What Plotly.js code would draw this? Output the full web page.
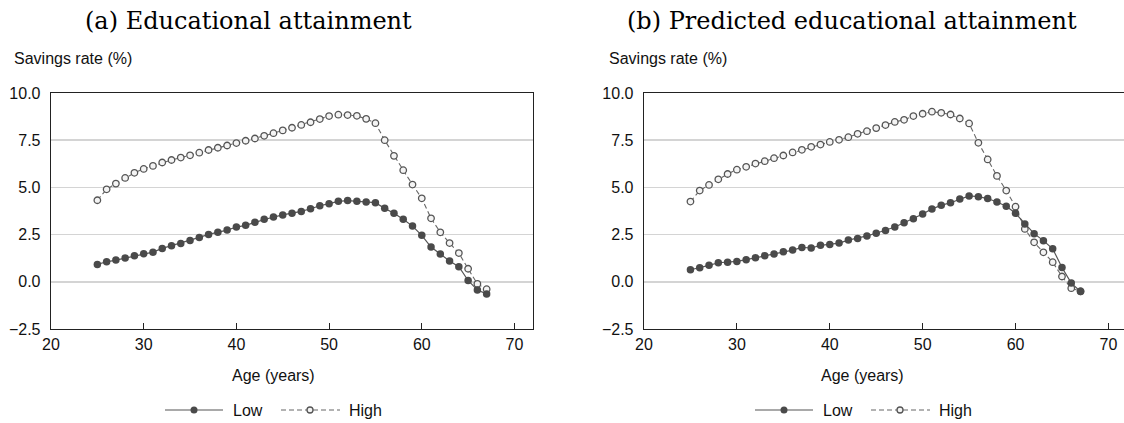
<!DOCTYPE html>
<html>
<head>
<meta charset="utf-8">
<script src="https://cdn.plot.ly/plotly-3.0.1.min.js"></script>
<style>
html,body{margin:0;padding:0;overflow:hidden;background:#fff;}
#chart{width:1130px;height:423px;}
</style>
</head>
<body>
<div id="chart"></div>
<script>
// ---- data ----
const ages = [25,26,27,28,29,30,31,32,33,34,35,36,37,38,39,40,41,42,43,44,45,46,
              47,48,49,50,51,52,53,54,55,56,57,58,59,60,61,62,63,64,65,66,67];

const lowA  = [0.92,1.06,1.15,1.26,1.38,1.49,1.57,1.77,1.91,2.03,2.19,2.35,2.51,2.62,2.74,2.90,2.99,3.15,3.31,3.43,3.54,3.63,3.73,3.87,
               4.03,4.14,4.26,4.30,4.26,4.23,4.19,3.89,3.63,3.31,2.95,2.46,1.84,1.47,1.10,0.80,0.07,-0.44,-0.64];
const highA = [4.32,4.90,5.20,5.50,5.77,5.98,6.14,6.32,6.45,6.58,6.70,6.84,6.98,7.10,7.22,7.35,7.47,7.59,7.73,7.87,8.02,8.16,8.31,8.45,
               8.62,8.78,8.85,8.83,8.79,8.63,8.40,7.50,6.67,5.91,5.15,4.42,3.36,2.62,2.05,1.52,0.69,-0.11,-0.39];

const lowB  = [0.64,0.74,0.87,1.01,1.03,1.08,1.17,1.27,1.38,1.47,1.59,1.68,1.82,1.79,1.93,1.98,2.05,2.21,2.30,2.43,
               2.57,2.72,2.90,3.13,3.34,3.59,3.86,4.05,4.19,4.39,4.55,4.51,4.41,4.23,4.00,3.63,3.06,2.55,2.18,1.75,0.76,-0.07,-0.51];
const highB = [4.25,4.83,5.13,5.43,5.71,5.94,6.09,6.26,6.39,6.55,6.69,6.85,6.99,7.15,7.27,7.41,7.52,7.66,7.84,7.98,
               8.14,8.30,8.47,8.58,8.78,8.90,9.01,8.95,8.86,8.65,8.39,7.36,6.48,5.61,4.83,3.98,2.80,2.09,1.56,1.04,0.28,-0.34,-0.50];

const panelTitles = ["(a) Educational attainment", "(b) Predicted educational attainment"];
const seriesNames = ["Low", "High"];
const yTitle = "Savings rate (%)";
const xTitle = "Age (years)";
const yTicks = [-2.5, 0, 2.5, 5, 7.5, 10];
const xTicks = [20, 30, 40, 50, 60, 70];

// ---- geometry (pixels) ----
const W = 1130, H = 423;
const ML = 51, MR = 3, MT = 93, MB = 94;
const PW = W - ML - MR, PH = H - MT - MB;
const px = x => (x - ML) / PW;
const py = y => (H - MB - y) / PH;

const panelLeft = [51, 644];
const panelRight = [533, 1127];

const sans = "Liberation Sans, Arial, sans-serif";
const FS = 16;
const lowStyle = {line: {color: '#555555', width: 1.2}, marker: {color: '#4a4a4a', size: 7.5, line: {width: 0}}};
const highStyle = {line: {color: '#666666', width: 1.1, dash: '5px,3px'},
                   marker: {color: '#f4f4f4', size: 6.5, line: {color: '#555555', width: 1.3}}};

function mk(y, name, style, xa, ya) {
  return {x: ages, y: y, name: name, type: 'scatter', mode: 'lines+markers',
          line: style.line, marker: style.marker, xaxis: xa, yaxis: ya,
          showlegend: false, hoverinfo: 'x+y'};
}

const traces = [
  mk(highA, seriesNames[1], highStyle, 'x', 'y'),
  mk(lowA, seriesNames[0], lowStyle, 'x', 'y'),
  mk(highB, seriesNames[1], highStyle, 'x2', 'y2'),
  mk(lowB, seriesNames[0], lowStyle, 'x2', 'y2')
];

function xax(dom, anchor) {
  return {domain: dom, anchor: anchor, range: [20, 72], tickvals: xTicks, ticktext: xTicks.map(String),
          ticks: 'inside', ticklen: 6, tickwidth: 1, tickcolor: '#222',
          showline: true, mirror: true, linecolor: '#222', linewidth: 1.3,
          showgrid: false, zeroline: false, fixedrange: true,
          tickfont: {family: sans, size: FS, color: '#111'}};
}
function yax(anchor) {
  return {domain: [0, 1], anchor: anchor, range: [-2.5, 10], tickvals: yTicks,
          ticktext: yTicks.map(v => (v < 0 ? '\u2212' : '') + Math.abs(v).toFixed(1)),
          ticks: '', showline: true, mirror: true, linecolor: '#222', linewidth: 1.3,
          showgrid: true, gridcolor: '#d4d4d4', gridwidth: 1.5, zeroline: false, fixedrange: true,
          ticklabelstandoff: 6,
          tickfont: {family: sans, size: FS, color: '#111'}};
}

const annotations = [];
const shapes = [];
const titleCenters = [248, 852];
const xTitleCenters = [273, 862];
const yTitleLeft = [12, 607];

for (let p = 0; p < 2; p++) {
  annotations.push({xref: 'paper', yref: 'paper', x: px(titleCenters[p]), y: py(21), xanchor: 'center', yanchor: 'middle',
                    text: panelTitles[p], showarrow: false, font: {family: 'DejaVu Serif, serif', size: 24, color: '#000'}});
  annotations.push({xref: 'paper', yref: 'paper', x: px(yTitleLeft[p]), y: py(59), xanchor: 'left', yanchor: 'middle',
                    text: yTitle, showarrow: false, font: {family: sans, size: FS, color: '#111'}});
  annotations.push({xref: 'paper', yref: 'paper', x: px(xTitleCenters[p]), y: py(375), xanchor: 'center', yanchor: 'middle',
                    text: xTitle, showarrow: false, font: {family: sans, size: FS, color: '#111'}});
  // custom legend
  const o = panelLeft[p] - 51 - (p === 1 ? 3 : 0);
  const ly = 410;
  shapes.push({type: 'line', xref: 'paper', yref: 'paper', x0: px(165 + o), x1: px(223 + o), y0: py(ly), y1: py(ly),
               line: {color: '#555555', width: 1.2}});
  shapes.push({type: 'circle', xref: 'paper', yref: 'paper', x0: px(194 + o - 3.5), x1: px(194 + o + 3.5),
               y0: py(ly + 3.5), y1: py(ly - 3.5), fillcolor: '#4a4a4a', line: {width: 0}});
  annotations.push({xref: 'paper', yref: 'paper', x: px(231 + o), y: py(ly), xanchor: 'left', yanchor: 'middle',
                    text: seriesNames[0], showarrow: false, font: {family: sans, size: FS, color: '#111'}});
  shapes.push({type: 'line', xref: 'paper', yref: 'paper', x0: px(281 + o), x1: px(340 + o), y0: py(ly), y1: py(ly),
               line: {color: '#666666', width: 1.1, dash: '5px,3px'}});
  shapes.push({type: 'circle', xref: 'paper', yref: 'paper', x0: px(310 + o - 3), x1: px(310 + o + 3),
               y0: py(ly + 3), y1: py(ly - 3), fillcolor: '#f4f4f4', line: {color: '#555555', width: 1.3}});
  annotations.push({xref: 'paper', yref: 'paper', x: px(347 + o), y: py(ly), xanchor: 'left', yanchor: 'middle',
                    text: seriesNames[1], showarrow: false, font: {family: sans, size: FS, color: '#111'}});
}

const layout = {
  width: W, height: H,
  margin: {l: ML, r: MR, t: MT, b: MB, pad: 0},
  paper_bgcolor: '#fff', plot_bgcolor: '#fff',
  showlegend: false,
  xaxis: xax([px(panelLeft[0]), px(panelRight[0])], 'y'),
  yaxis: yax('x'),
  xaxis2: xax([px(panelLeft[1]), 1], 'y2'),
  yaxis2: yax('x2'),
  annotations: annotations,
  shapes: shapes
};

Plotly.newPlot('chart', traces, layout, {displayModeBar: false, staticPlot: true});
</script>
</body>
</html>
